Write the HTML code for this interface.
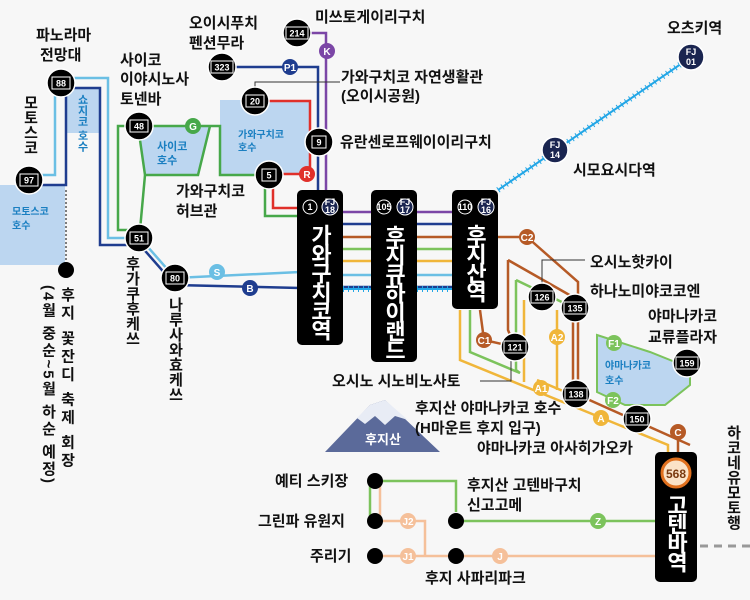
<!DOCTYPE html>
<html><head><meta charset="utf-8"><style>
html,body{margin:0;padding:0;background:#f7f7f7}
svg{display:block}
text{font-family:"Liberation Sans","Noto Sans CJK KR",sans-serif;font-weight:bold}
.v{writing-mode:vertical-rl;text-orientation:mixed}
.st{writing-mode:vertical-rl;text-orientation:upright;letter-spacing:-3px}
.lbl{font-size:15px;fill:#111}
.sn{font-size:9px;fill:#fff;text-anchor:middle}
.bd{font-size:10px;fill:#fff;text-anchor:middle}
</style></head><body>
<svg width="750" height="600" viewBox="0 0 750 600" xmlns="http://www.w3.org/2000/svg">
<rect width="750" height="600" fill="#f7f7f7"/>
<rect x="0" y="185" width="65" height="80" fill="#bcd6f0"/>
<rect x="67" y="88" width="33" height="45" fill="#bcd6f0"/>
<polygon points="138,126 210,126 198,175 145,175" fill="#bcd6f0"/>
<rect x="220" y="100" width="90" height="75" fill="#bcd6f0"/>
<polygon points="597,335 650,352 690,368 690,385 665,405 625,405 597,392" fill="#bcd6f0" stroke="#7cc35c" stroke-width="2"/>
<text x="12" y="215" font-size="10" fill="#1a7fc1">모토스코</text><text x="12" y="229" font-size="10" fill="#1a7fc1">호수</text>
<text x="82" y="94" class="v" font-size="11" fill="#1a7fc1">쇼지코 호수</text>
<text x="157" y="150" fill="#1a7fc1" font-size="11">사이코</text><text x="157" y="164" fill="#1a7fc1" font-size="11">호수</text>
<text x="238" y="138" fill="#1a7fc1" font-size="10">가와구치코</text><text x="238" y="151" fill="#1a7fc1" font-size="10">호수</text>
<text x="605" y="369" fill="#1a7fc1" font-size="10">야마나카코</text><text x="605" y="384" fill="#1a7fc1" font-size="10">호수</text>
<g fill="none" stroke-width="2.5">
<polyline points="29,175 55,175 55,78 108,78 108,238 140,238 175,278 300,272" stroke="#6bbfe4"/>
<polyline points="29,185 66,185 66,88 100,88 100,245 140,245 175,285 300,288" stroke="#1f3d8f"/>
<polyline points="140,126 118,126 118,230 140,230" stroke="#47a84a"/>
<polyline points="140,126 220,126 220,175 269,175" stroke="#47a84a"/>
<polyline points="145,175 140,230" stroke="#47a84a"/>
<polyline points="138,126 145,175" stroke="#47a84a"/>
<polyline points="210,126 198,175 145,175" stroke="#47a84a"/>
<polyline points="265,185 265,216 300,216" stroke="#47a84a"/>
<polyline points="255,101 310,101 310,174 269,174" stroke="#e0302a"/>
<polyline points="273,185 273,208 300,208" stroke="#e0302a"/>
<polyline points="222,67 318,67 318,192" stroke="#1f3d8f"/>
<polyline points="297,33 326,33 326,192" stroke="#7b46a6"/>
<line x1="300" y1="212" x2="455" y2="212" stroke="#7b46a6"/>
<line x1="300" y1="224" x2="455" y2="224" stroke="#1f3d8f"/>
<line x1="300" y1="237" x2="527" y2="237" stroke="#b65a26"/>
<line x1="300" y1="249" x2="455" y2="249" stroke="#7cc35c"/>
<line x1="300" y1="261" x2="455" y2="261" stroke="#f0b63a"/>
<line x1="300" y1="275" x2="455" y2="275" stroke="#6bbfe4"/>
<line x1="300" y1="287" x2="455" y2="287" stroke="#1f3d8f"/>
<polyline points="527,237 578,282 578,394" stroke="#b65a26"/>
<polyline points="508,260 573,297 573,394" stroke="#b65a26"/>
<polyline points="508,260 508,330 515,347" stroke="#b65a26"/>
<polyline points="480,310 484,340 515,347" stroke="#b65a26"/>
<polyline points="576,394 690,445" stroke="#b65a26"/>
<line x1="678" y1="432" x2="678" y2="455" stroke="#b65a26"/>
<polyline points="470,310 470,352 520,373" stroke="#7cc35c"/>
<polyline points="516,280 516,370 520,373" stroke="#7cc35c"/>
<polyline points="516,280 568,305" stroke="#7cc35c"/>
<polyline points="460,310 460,360 668,445 668,455" stroke="#f0b63a"/>
<polyline points="524,300 524,382" stroke="#f0b63a"/>
<polyline points="557,310 557,390" stroke="#f0b63a"/>
<polyline points="537,380 570,394" stroke="#f0b63a"/>
</g>
<g stroke="#22a6e6" stroke-width="2">
<line x1="343" y1="289" x2="371" y2="289"/><line x1="417" y1="289" x2="452" y2="289"/><line x1="498" y1="190" x2="691" y2="57"/>
</g>
<g stroke="#22a6e6" stroke-width="6" fill="none" stroke-dasharray="1 4">
<line x1="343" y1="289" x2="371" y2="289"/>
<line x1="417" y1="289" x2="452" y2="289"/>
<line x1="498" y1="190" x2="691" y2="57"/>
</g>
<line x1="66" y1="190" x2="66" y2="270" stroke="#555" stroke-width="1.5" stroke-dasharray="2 2"/>
<circle cx="66" cy="270" r="8" fill="#000"/>
<line x1="700" y1="546" x2="750" y2="546" stroke="#999" stroke-width="3" stroke-dasharray="8 6"/>
<polyline points="255,88 255,82 340,82" fill="none" stroke="#333" stroke-width="1"/>
<polyline points="542,297 542,260 585,260" fill="none" stroke="#333" stroke-width="1"/>
<polyline points="511,360 511,381 480,381" fill="none" stroke="#333" stroke-width="1"/>
<g fill="none" stroke-width="2.5">
<polyline points="380,481 456,481 456,512" stroke="#7cc35c"/>
<polyline points="370,481 370,521" stroke="#7cc35c"/>
<line x1="456" y1="521" x2="655" y2="521" stroke="#7cc35c"/>
<polyline points="380,481 380,521 425,521 425,556" stroke="#f5c09a"/>
<line x1="375" y1="556" x2="655" y2="556" stroke="#f5c09a"/>
</g>
<g fill="#000"><circle cx="375" cy="481" r="8"/><circle cx="375" cy="521" r="8"/><circle cx="375" cy="556" r="8"/><circle cx="456" cy="521" r="8"/><circle cx="456" cy="556" r="8"/></g>
<polygon points="325,452 370,405 385,400 440,452" fill="#5b6a9a"/>
<polygon points="357,418 370,405 385,400 408,420 395,416 385,425 375,416 365,424" fill="#e8ecf5"/>
<text x="383" y="444" font-size="13" fill="#fff" text-anchor="middle">후지산</text>
<g>
<circle cx="193" cy="126" r="8" fill="#47a84a"/><text x="193" y="130" class="bd">G</text>
<circle cx="290" cy="67" r="8" fill="#1f3d8f"/><text x="290" y="71" class="bd">P1</text>
<circle cx="327" cy="51" r="8" fill="#7b46a6"/><text x="327" y="55" class="bd">K</text>
<circle cx="307" cy="174" r="8" fill="#e0302a"/><text x="307" y="178" class="bd">R</text>
<circle cx="217" cy="272" r="8" fill="#6bbfe4"/><text x="217" y="276" class="bd">S</text>
<circle cx="250" cy="288" r="8" fill="#1f3d8f"/><text x="250" y="292" class="bd">B</text>
<circle cx="527" cy="237" r="8" fill="#b65a26"/><text x="527" y="241" class="bd">C2</text>
<circle cx="484" cy="340" r="8" fill="#b65a26"/><text x="484" y="344" class="bd">C1</text>
<circle cx="557" cy="337" r="8" fill="#f0b63a"/><text x="557" y="341" class="bd">A2</text>
<circle cx="541" cy="388" r="8" fill="#f0b63a"/><text x="541" y="392" class="bd">A1</text>
<circle cx="601" cy="418" r="8" fill="#f0b63a"/><text x="601" y="422" class="bd">A</text>
<circle cx="678" cy="432" r="8" fill="#b65a26"/><text x="678" y="436" class="bd">C</text>
<circle cx="614" cy="343" r="8" fill="#7cc35c"/><text x="614" y="347" class="bd">F1</text>
<circle cx="613" cy="400" r="8" fill="#7cc35c"/><text x="613" y="404" class="bd">F2</text>
<circle cx="598" cy="521" r="8" fill="#7cc35c"/><text x="598" y="525" class="bd">Z</text>
<circle cx="408" cy="521" r="8" fill="#f5c09a"/><text x="408" y="525" class="bd">J2</text>
<circle cx="408" cy="556" r="8" fill="#f5c09a"/><text x="408" y="560" class="bd">J1</text>
<circle cx="500" cy="556" r="8" fill="#f5c09a"/><text x="500" y="560" class="bd">J</text>
</g>
<g>
<g transform="translate(61,83)"><circle r="14" fill="#000" stroke="#fff" stroke-width="1.5"/><rect x="-9" y="-6" width="18" height="12" fill="none" stroke="#fff"/><text y="3.5" class="sn">88</text></g>
<g transform="translate(29,180)"><circle r="14" fill="#000" stroke="#fff" stroke-width="1.5"/><rect x="-9" y="-6" width="18" height="12" fill="none" stroke="#fff"/><text y="3.5" class="sn">97</text></g>
<g transform="translate(139,126)"><circle r="14" fill="#000" stroke="#fff" stroke-width="1.5"/><rect x="-9" y="-6" width="18" height="12" fill="none" stroke="#fff"/><text y="3.5" class="sn">48</text></g>
<g transform="translate(139,238)"><circle r="14" fill="#000" stroke="#fff" stroke-width="1.5"/><rect x="-9" y="-6" width="18" height="12" fill="none" stroke="#fff"/><text y="3.5" class="sn">51</text></g>
<g transform="translate(175,278)"><circle r="14" fill="#000" stroke="#fff" stroke-width="1.5"/><rect x="-9" y="-6" width="18" height="12" fill="none" stroke="#fff"/><text y="3.5" class="sn">80</text></g>
<g transform="translate(222,67)"><circle r="14" fill="#000" stroke="#fff" stroke-width="1.5"/><rect x="-11" y="-6" width="22" height="12" fill="none" stroke="#fff"/><text y="3.5" class="sn">323</text></g>
<g transform="translate(297,33)"><circle r="14" fill="#000" stroke="#fff" stroke-width="1.5"/><rect x="-11" y="-6" width="22" height="12" fill="none" stroke="#fff"/><text y="3.5" class="sn">214</text></g>
<g transform="translate(255,101)"><circle r="14" fill="#000" stroke="#fff" stroke-width="1.5"/><rect x="-9" y="-6" width="18" height="12" fill="none" stroke="#fff"/><text y="3.5" class="sn">20</text></g>
<g transform="translate(319,142)"><circle r="14" fill="#000" stroke="#fff" stroke-width="1.5"/><rect x="-7" y="-6" width="14" height="12" fill="none" stroke="#fff"/><text y="3.5" class="sn">9</text></g>
<g transform="translate(269,175)"><circle r="14" fill="#000" stroke="#fff" stroke-width="1.5"/><rect x="-7" y="-6" width="14" height="12" fill="none" stroke="#fff"/><text y="3.5" class="sn">5</text></g>
<g transform="translate(542,297)"><circle r="14" fill="#000" stroke="#fff" stroke-width="1.5"/><rect x="-11" y="-6" width="22" height="12" fill="none" stroke="#fff"/><text y="3.5" class="sn">126</text></g>
<g transform="translate(575,308)"><circle r="14" fill="#000" stroke="#fff" stroke-width="1.5"/><rect x="-11" y="-6" width="22" height="12" fill="none" stroke="#fff"/><text y="3.5" class="sn">135</text></g>
<g transform="translate(515,347)"><circle r="14" fill="#000" stroke="#fff" stroke-width="1.5"/><rect x="-11" y="-6" width="22" height="12" fill="none" stroke="#fff"/><text y="3.5" class="sn">121</text></g>
<g transform="translate(576,394)"><circle r="14" fill="#000" stroke="#fff" stroke-width="1.5"/><rect x="-11" y="-6" width="22" height="12" fill="none" stroke="#fff"/><text y="3.5" class="sn">138</text></g>
<g transform="translate(637,419)"><circle r="14" fill="#000" stroke="#fff" stroke-width="1.5"/><rect x="-11" y="-6" width="22" height="12" fill="none" stroke="#fff"/><text y="3.5" class="sn">150</text></g>
<g transform="translate(687,363)"><circle r="14" fill="#000" stroke="#fff" stroke-width="1.5"/><rect x="-11" y="-6" width="22" height="12" fill="none" stroke="#fff"/><text y="3.5" class="sn">159</text></g>
<g transform="translate(555,150)"><circle r="13" fill="#1a2550" stroke="#fff" stroke-width="1.5"/><text y="-2" class="sn" font-size="7">FJ</text><text y="8" class="sn" font-size="8">14</text></g>
<g transform="translate(691,57)"><circle r="13" fill="#1a2550" stroke="#fff" stroke-width="1.5"/><text y="-2" class="sn" font-size="7">FJ</text><text y="8" class="sn" font-size="8">01</text></g>
</g>
<rect x="297" y="190" width="46" height="155" rx="5" fill="#000"/>
<rect x="371" y="190" width="46" height="172" rx="5" fill="#000"/>
<rect x="452" y="190" width="46" height="119" rx="5" fill="#000"/>
<rect x="655" y="452" width="42" height="130" rx="5" fill="#000"/>
<circle cx="310" cy="207" r="7" fill="none" stroke="#fff"/><text x="310" y="210" class="sn" font-size="7">1</text>
<circle cx="330" cy="207" r="8" fill="#1a2550" stroke="#fff"/><text x="330" y="205" class="sn" font-size="6">FJ</text><text x="330" y="213" class="sn" font-size="7">18</text>
<circle cx="384" cy="207" r="7" fill="none" stroke="#fff"/><text x="384" y="210" class="sn" font-size="6">105</text>
<circle cx="405" cy="207" r="8" fill="#1a2550" stroke="#fff"/><text x="405" y="205" class="sn" font-size="6">FJ</text><text x="405" y="213" class="sn" font-size="7">17</text>
<circle cx="465" cy="207" r="7" fill="none" stroke="#fff"/><text x="465" y="210" class="sn" font-size="6">110</text>
<circle cx="486" cy="207" r="8" fill="#1a2550" stroke="#fff"/><text x="486" y="205" class="sn" font-size="6">FJ</text><text x="486" y="213" class="sn" font-size="7">16</text>
<circle cx="676" cy="473" r="14" fill="#fbe3c8" stroke="#e0701e" stroke-width="3"/><text x="676" y="478" font-size="12" fill="#7a3a10" text-anchor="middle">568</text>
<text x="320" y="224" class="st" fill="#fff" font-size="22">가와구치코역</text>
<text x="394" y="225" class="st" fill="#fff" font-size="22">후지큐하이랜드</text>
<text x="475" y="224" class="st" fill="#fff" font-size="22">후지산역</text>
<text x="676" y="494" class="st" fill="#fff" font-size="22">고텐바역</text>
<g>
<text x="36" y="40" class="lbl">파노라마</text><text x="40" y="60" class="lbl">전망대</text>
<text x="30" y="95" class="v lbl">모토스코</text>
<text x="120" y="65" class="lbl">사이코</text><text x="120" y="84" class="lbl">이야시노사</text><text x="120" y="104" class="lbl">토넨바</text>
<text x="189" y="28" class="lbl">오이시푸치</text><text x="189" y="48" class="lbl">펜션무라</text>
<text x="315" y="22" class="lbl">미쓰토게이리구치</text>
<text x="341" y="82" class="lbl">가와구치코 자연생활관</text><text x="341" y="101" class="lbl">(오이시공원)</text>
<text x="340" y="147" class="lbl">유란센로프웨이이리구치</text>
<text x="176" y="196" class="lbl">가와구치코</text><text x="176" y="216" class="lbl">허브관</text>
<text x="667" y="33" class="lbl">오츠키역</text>
<text x="573" y="175" class="lbl">시모요시다역</text>
<text x="590" y="267" class="lbl">오시노핫카이</text>
<text x="590" y="296" class="lbl">하나노미야코코엔</text>
<text x="648" y="321" class="lbl">야마나카코</text><text x="648" y="342" class="lbl">교류플라자</text>
<text x="332" y="386" class="lbl">오시노 시노비노사토</text>
<text x="415" y="413" class="lbl">후지산 야마나카코 호수</text><text x="415" y="433" class="lbl">(H마운트 후지 입구)</text>
<text x="477" y="453" class="lbl">야마나카코 아사히가오카</text>
<text x="733" y="425" class="v lbl">하코네유모토행</text>
<text x="132" y="256" class="v lbl">후가쿠후케쓰</text>
<text x="175" y="297" class="v lbl">나루사와효케쓰</text>
<text x="67" y="287" class="v lbl" style="letter-spacing:3px">후지 꽃잔디 축제 회장</text>
<text x="48" y="285" class="v lbl" style="letter-spacing:2px">(4월 중순~5월 하순 예정)</text>
<text x="275" y="486" class="lbl">예티 스키장</text>
<text x="258" y="526" class="lbl">그린파 유원지</text>
<text x="310" y="561" class="lbl">주리기</text>
<text x="467" y="490" class="lbl">후지산 고텐바구치</text><text x="467" y="510" class="lbl">신고고메</text>
<text x="425" y="583" class="lbl">후지 사파리파크</text>
</g>
</svg>
</body></html>
